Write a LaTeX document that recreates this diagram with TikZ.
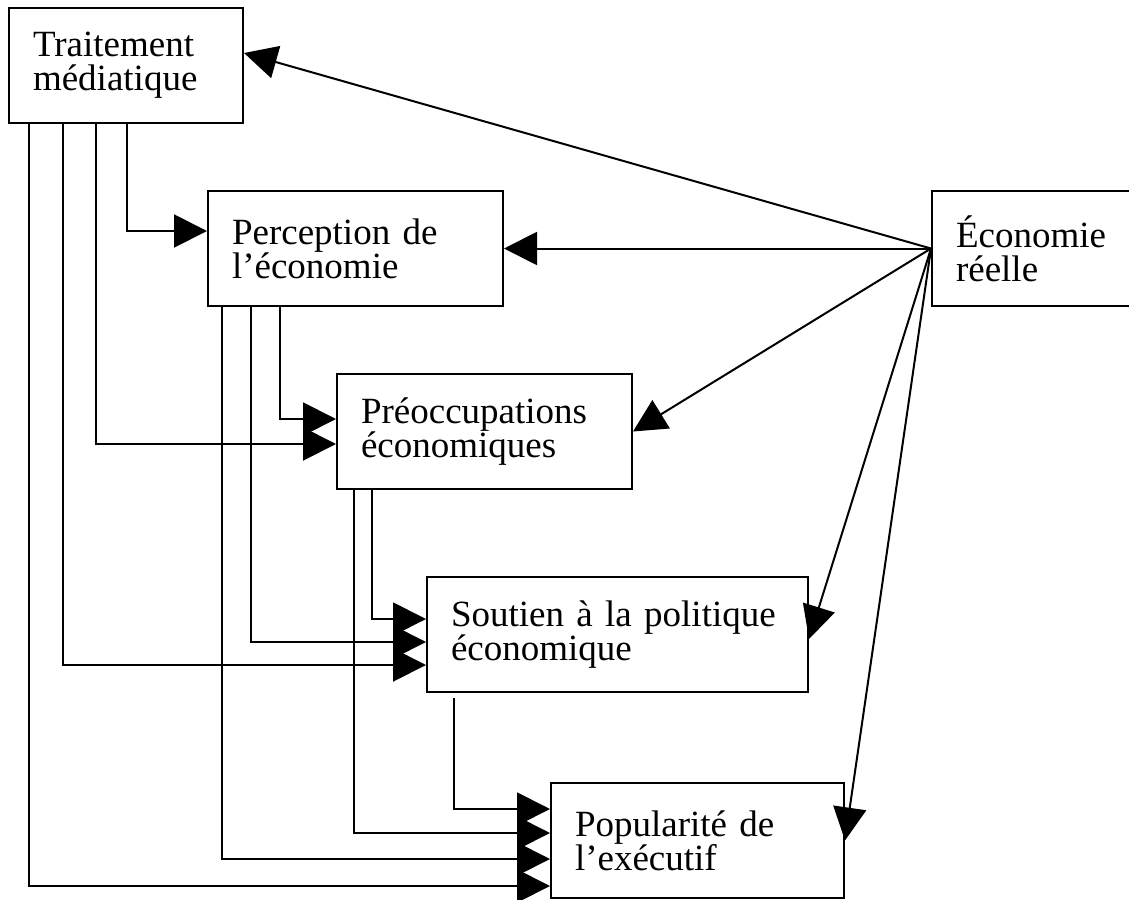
\documentclass[tikz,border=0pt]{standalone}
\usepackage{fontspec}
\setmainfont{Liberation Serif}
\usetikzlibrary{calc,arrows.meta}

\begin{document}
\begin{tikzpicture}[x=1pt,y=-1pt]

\def\ecolinewidth{2pt}
\def\ecoboxheight{115pt}
\def\ecotextsep{24pt}

\tikzset{
  ecobox/.style={draw, line width=\ecolinewidth, anchor=north west,
    minimum height=\ecoboxheight, inner xsep=\ecotextsep, inner ysep=0pt,
    align=left, text width=#1, font=\fontsize{37}{34}\selectfont},
  ecoarrow/.style={line width=\ecolinewidth,
    -{Triangle[length=33pt,width=33pt]}},
}

\useasboundingbox (0,0) rectangle (1129,899);

% boxes
\node[ecobox=186pt] (tm) at (8,7)     {Traitement\\médiatique};
\node[ecobox=247pt] (pe) at (207,190) {Perception de\\l’économie};
\node[ecobox=172pt] (er) at (931,190) {Économie\\réelle};
\node[ecobox=247pt] (pr) at (336,373) {Préoccupations\\économiques};
\node[ecobox=333pt] (sp) at (426,576) {Soutien à la politique\\économique};
\node[ecobox=245pt] (px) at (550,782) {Popularité de\\l’exécutif};

% from the real economy
\draw[ecoarrow] (er.west) -- ($(tm.north east)+(0,46)$);
\draw[ecoarrow] (er.west) -- (pe.east);
\draw[ecoarrow] (er.west) -- (pr.east);
\draw[ecoarrow] (er.west) -- ($(sp.north east)+(0,63)$);
\draw[ecoarrow] (er.west) -- (px.east);

% from media treatment
\draw[ecoarrow] ($(tm.south west)+(119,0)$) |- ($(pe.north west)+(0,41)$);
\draw[ecoarrow] ($(tm.south west)+(88,0)$)  |- ($(pr.north west)+(0,71)$);
\draw[ecoarrow] ($(tm.south west)+(55,0)$)  |- ($(sp.north west)+(0,89)$);
\draw[ecoarrow] ($(tm.south west)+(21,0)$)  |- ($(px.north west)+(0,104)$);

% from perception
\draw[ecoarrow] ($(pe.south west)+(73,0)$) |- ($(pr.north west)+(0,46)$);
\draw[ecoarrow] ($(pe.south west)+(44,0)$) |- ($(sp.north west)+(0,66)$);
\draw[ecoarrow] ($(pe.south west)+(15,0)$) |- ($(px.north west)+(0,77)$);

% from concerns
\draw[ecoarrow] ($(pr.south west)+(36,0)$) |- ($(sp.north west)+(0,43)$);
\draw[ecoarrow] ($(pr.south west)+(18,0)$) |- ($(px.north west)+(0,51)$);

% from support
\draw[ecoarrow, shorten <=5pt] ($(sp.south west)+(28,0)$) |- ($(px.north west)+(0,27)$);

\end{tikzpicture}
\end{document}
